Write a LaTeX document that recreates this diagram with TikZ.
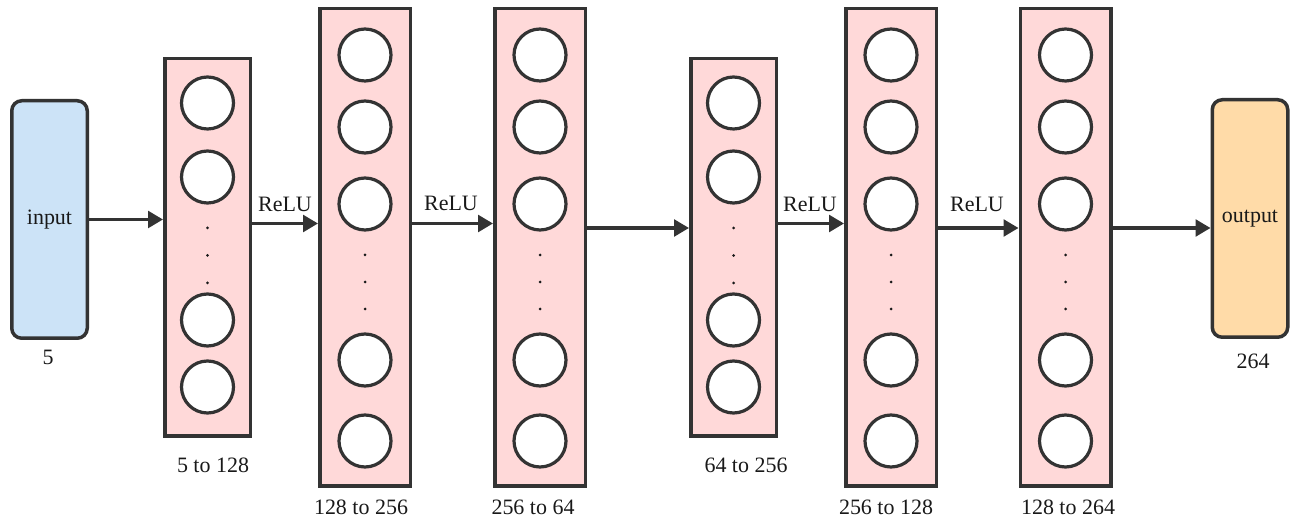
\documentclass[tikz,border=0pt]{standalone}
\usepackage{fontspec}
\setmainfont{Liberation Serif}
\usetikzlibrary{arrows.meta}
\newlength{\du}
\setlength{\du}{0.02cm}

\begin{document}
\begin{tikzpicture}[yscale=-1,
  every node/.style={font=\rmfamily\fontsize{12.5}{15}\selectfont, text=textcolor},
  shortlayer/.style={draw=linecolor, fill=layerfill, line width=3.5\du, inner sep=0pt,
    minimum width=85.5\du, minimum height=377.5\du},
  talllayer/.style={draw=linecolor, fill=layerfill, line width=3.5\du, inner sep=0pt,
    minimum width=90.5\du, minimum height=477.5\du},
  iobox/.style={draw=linecolor, line width=3.5\du, rounded corners=10\du, inner sep=0pt,
    minimum width=75.5\du, minimum height=237.5\du},
  neuron/.style={circle, draw=linecolor, fill=white, line width=3.2\du, inner sep=0pt,
    minimum size=52\du},
  link/.style={draw=linecolor, line width=3.2\du, -{Triangle[length=8.5pt,width=9.5pt]}}]
\definecolor{linecolor}{rgb}{0.200000, 0.200000, 0.200000}
\definecolor{textcolor}{rgb}{0.100000, 0.100000, 0.100000}
\definecolor{layerfill}{rgb}{1.000000, 0.850000, 0.850000}
\definecolor{infill}{rgb}{0.800000, 0.890000, 0.970000}
\definecolor{outfill}{rgb}{1.000000, 0.860000, 0.660000}
\useasboundingbox (0\du,0\du) rectangle (1291\du,519\du);
% rows of the arrows
\coordinate (rowa) at (0\du,223.5\du);
\coordinate (rowb) at (0\du,228\du);
% input and output
\node[iobox, fill=infill] (in) at (49.5\du,219.5\du) {input};
\node (insize) at (48\du,357\du) {5};
\node[iobox, fill=outfill] (out) at (1250\du,218.5\du) {output};
\node (outsize) at (1253\du,361\du) {264};
% layer 1
\node[shortlayer] (l1) at (207.5\du,247.5\du) {};
\node[neuron] (l1n1) at (207.5\du,103\du) {};
\node[neuron] (l1n2) at (207.5\du,177\du) {};
\node[neuron] (l1n3) at (207.5\du,320\du) {};
\node[neuron] (l1n4) at (207.5\du,387\du) {};
\fill[textcolor] (207.5\du,228\du) circle (1.5\du);
\fill[textcolor] (207.5\du,255.5\du) circle (1.5\du);
\fill[textcolor] (207.5\du,283\du) circle (1.5\du);
\node (l1txt) at (213\du,465\du) {5 to 128};
% layer 2
\node[talllayer] (l2) at (365\du,247.5\du) {};
\node[neuron] (l2n1) at (365\du,55\du) {};
\node[neuron] (l2n2) at (365\du,127\du) {};
\node[neuron] (l2n3) at (365\du,204\du) {};
\node[neuron] (l2n4) at (365\du,360\du) {};
\node[neuron] (l2n5) at (365\du,441\du) {};
\fill[textcolor] (365\du,255\du) circle (1.5\du);
\fill[textcolor] (365\du,282\du) circle (1.5\du);
\fill[textcolor] (365\du,309\du) circle (1.5\du);
\node (l2txt) at (361\du,507\du) {128 to 256};
% layer 3
\node[talllayer] (l3) at (540\du,247.5\du) {};
\node[neuron] (l3n1) at (540\du,55\du) {};
\node[neuron] (l3n2) at (540\du,127\du) {};
\node[neuron] (l3n3) at (540\du,204\du) {};
\node[neuron] (l3n4) at (540\du,360\du) {};
\node[neuron] (l3n5) at (540\du,441\du) {};
\fill[textcolor] (540\du,255\du) circle (1.5\du);
\fill[textcolor] (540\du,282\du) circle (1.5\du);
\fill[textcolor] (540\du,309\du) circle (1.5\du);
\node (l3txt) at (533\du,507\du) {256 to 64};
% layer 4
\node[shortlayer] (l4) at (733.5\du,247.5\du) {};
\node[neuron] (l4n1) at (733.5\du,103\du) {};
\node[neuron] (l4n2) at (733.5\du,177\du) {};
\node[neuron] (l4n3) at (733.5\du,320\du) {};
\node[neuron] (l4n4) at (733.5\du,387\du) {};
\fill[textcolor] (733.5\du,228\du) circle (1.5\du);
\fill[textcolor] (733.5\du,255.5\du) circle (1.5\du);
\fill[textcolor] (733.5\du,283\du) circle (1.5\du);
\node (l4txt) at (746\du,465\du) {64 to 256};
% layer 5
\node[talllayer] (l5) at (891\du,247.5\du) {};
\node[neuron] (l5n1) at (891\du,55\du) {};
\node[neuron] (l5n2) at (891\du,127\du) {};
\node[neuron] (l5n3) at (891\du,204\du) {};
\node[neuron] (l5n4) at (891\du,360\du) {};
\node[neuron] (l5n5) at (891\du,441\du) {};
\fill[textcolor] (891\du,255\du) circle (1.5\du);
\fill[textcolor] (891\du,282\du) circle (1.5\du);
\fill[textcolor] (891\du,309\du) circle (1.5\du);
\node (l5txt) at (886\du,507\du) {256 to 128};
% layer 6
\node[talllayer] (l6) at (1065.5\du,247.5\du) {};
\node[neuron] (l6n1) at (1065.5\du,55\du) {};
\node[neuron] (l6n2) at (1065.5\du,127\du) {};
\node[neuron] (l6n3) at (1065.5\du,204\du) {};
\node[neuron] (l6n4) at (1065.5\du,360\du) {};
\node[neuron] (l6n5) at (1065.5\du,441\du) {};
\fill[textcolor] (1065.5\du,255\du) circle (1.5\du);
\fill[textcolor] (1065.5\du,282\du) circle (1.5\du);
\fill[textcolor] (1065.5\du,309\du) circle (1.5\du);
\node (l6txt) at (1068\du,507\du) {128 to 264};
% connections
\draw[link] (in.east) -- (in.east -| l1.west);
\draw[link] (l1.east |- rowa) -- (l2.west |- rowa);
\draw[link] (l2.east |- rowa) -- (l3.west |- rowa);
\draw[link] (l3.east |- rowb) -- (l4.west |- rowb);
\draw[link] (l4.east |- rowa) -- (l5.west |- rowa);
\draw[link] (l5.east |- rowb) -- (l6.west |- rowb);
\draw[link] (l6.east |- rowb) -- (out.west |- rowb);
\node (relu1) at (285\du,204\du) {ReLU};
\node (relu2) at (451\du,203\du) {ReLU};
\node (relu3) at (810\du,204\du) {ReLU};
\node (relu4) at (977\du,204\du) {ReLU};
\end{tikzpicture}
\end{document}
